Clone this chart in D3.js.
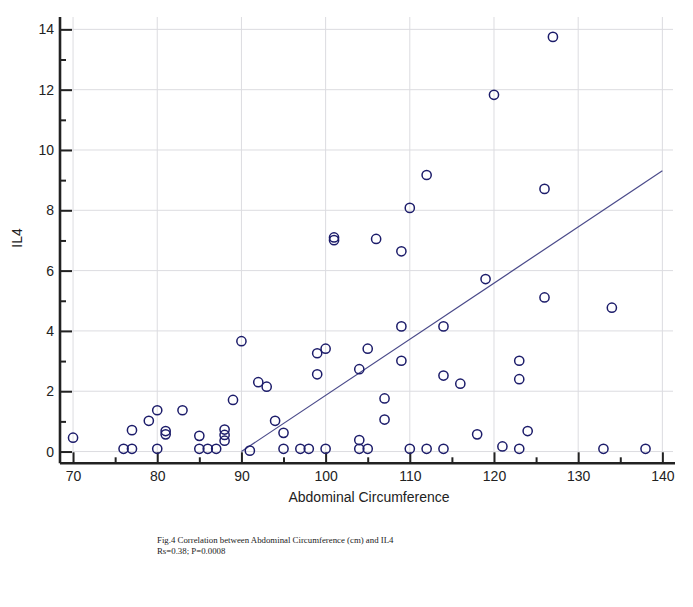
<!DOCTYPE html>
<html><head><meta charset="utf-8">
<script src="https://cdn.jsdelivr.net/npm/d3@7"></script>
<style>body{margin:0;background:#fff}svg{display:block}</style>
</head><body>
<svg id="c" width="693" height="607"></svg>
<script>
const circumference = [70,76,77,77,79,80,80,81,81,83,85,85,86,87,88,88,88,89,90,91,92,93,94,95,95,97,98,99,99,100,100,101,101,104,104,104,105,105,106,107,107,109,109,109,110,110,112,112,114,114,114,116,118,119,120,121,123,123,123,124,126,126,127,133,134,138];
const il4 = [0.46,0.09,0.09,0.71,1.02,1.37,0.09,0.68,0.57,1.37,0.52,0.09,0.09,0.09,0.73,0.55,0.36,1.71,3.66,0.03,2.3,2.15,1.02,0.62,0.09,0.09,0.09,3.26,2.56,3.41,0.09,7.1,7.01,2.73,0.38,0.09,3.41,0.09,7.05,1.76,1.06,6.64,4.15,3.01,8.08,0.09,9.17,0.09,4.15,2.52,0.09,2.25,0.57,5.72,11.83,0.17,3.01,2.4,0.09,0.68,8.71,5.11,13.75,0.09,4.77,0.09];
const fitX = [90, 140];
const fitY = [0, 9.31];
const xMajor = [70,80,90,100,110,120,130,140];
const xMinor = [75,85,95,105,115,125,135];
const yMajor = [0,2,4,6,8,10,12,14];
const yMinor = [1,3,5,7,9,11,13];
const xTitle = "Abdominal Circumference";
const yTitle = "IL4";
const caption = ["Fig.4 Correlation between Abdominal Circumference (cm) and IL4", "Rs=0.38; P=0.0008"];

const svg = d3.select("#c");
const L = 60, R = 675, T = 17, B = 463.3;
const x = d3.scaleLinear().domain([68.45, 141.5]).range([L, R]);
const y = d3.scaleLinear().domain([-0.39, 14.41]).range([B, T]);
const font = "Arial, 'Liberation Sans', sans-serif";

// grid
svg.append("g").selectAll("line").data(xMajor).join("line")
  .attr("x1", d => x(d)).attr("x2", d => x(d)).attr("y1", T).attr("y2", B)
  .attr("stroke", "#dcdce0").attr("stroke-width", 1);
svg.append("g").selectAll("line").data(yMajor).join("line")
  .attr("x1", L).attr("x2", 673).attr("y1", d => y(d)).attr("y2", d => y(d))
  .attr("stroke", "#dcdce0").attr("stroke-width", 1);

// axes
const gx = svg.append("g").attr("transform", `translate(0,${B})`)
  .call(d3.axisBottom(x).tickValues(xMajor).tickSize(-11).tickSizeOuter(0).tickPadding(8));
const gxm = svg.append("g").attr("transform", `translate(0,${B})`)
  .call(d3.axisBottom(x).tickValues(xMinor).tickSize(-6).tickSizeOuter(0).tickFormat(""));
const gy = svg.append("g").attr("transform", `translate(${L},0)`)
  .call(d3.axisLeft(y).tickValues(yMajor).tickSize(-12).tickSizeOuter(0).tickPadding(6));
const gym = svg.append("g").attr("transform", `translate(${L},0)`)
  .call(d3.axisLeft(y).tickValues(yMinor).tickSize(-6).tickSizeOuter(0).tickFormat(""));
[gx, gxm, gy, gym].forEach(g => {
  g.selectAll(".tick line").attr("stroke", "#222").attr("stroke-width", 2);
  g.selectAll("text").attr("font-family", font).attr("font-size", 14).attr("fill", "#222");
  g.select(".domain").attr("stroke", "#222").attr("stroke-width", 2.6);
});
gxm.select(".domain").remove();
gym.select(".domain").remove();
gx.select(".domain").attr("d", `M${L},0H${R}`);
gy.select(".domain").attr("d", `M0,${T}V${B}`);

// regression line
svg.append("path")
  .attr("d", d3.line().x(d => x(d[0])).y(d => y(d[1]))(fitX.map((v, i) => [v, fitY[i]])))
  .attr("stroke", "#4a4a8a").attr("stroke-width", 1.2).attr("fill", "none");

// points
svg.append("g").selectAll("circle").data(circumference.map((v, i) => [v, il4[i]])).join("circle")
  .attr("cx", d => x(d[0])).attr("cy", d => y(d[1])).attr("r", 4.6)
  .attr("fill", "none").attr("stroke", "#1c1c6a").attr("stroke-width", 1.5);

// titles
svg.append("text").attr("x", 369).attr("y", 502).attr("text-anchor", "middle")
  .attr("font-family", font).attr("font-size", 14).attr("fill", "#222").text(xTitle);
svg.append("text").attr("transform", "translate(22,238) rotate(-90)").attr("text-anchor", "middle")
  .attr("font-family", font).attr("font-size", 14).attr("fill", "#222").text(yTitle);

// caption
svg.append("g").selectAll("text").data(caption).join("text")
  .attr("x", 157).attr("y", (d, i) => 543 + i * 11)
  .attr("font-family", "'Liberation Serif', 'Times New Roman', serif").attr("font-size", 8.8)
  .attr("fill", "#222").text(d => d);
</script>
</body></html>
